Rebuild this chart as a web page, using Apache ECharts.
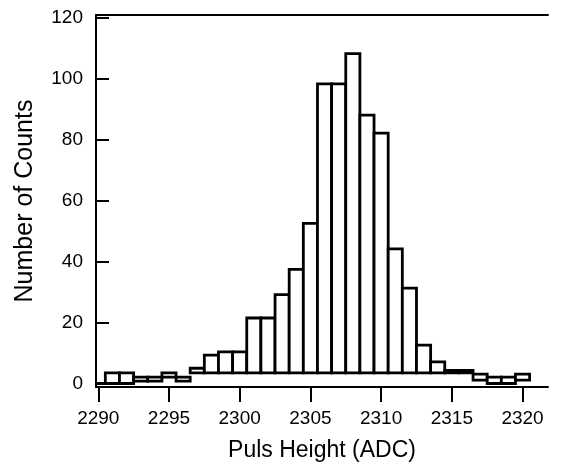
<!DOCTYPE html>
<html>
<head>
<meta charset="utf-8">
<script src="https://cdn.jsdelivr.net/npm/echarts@6/dist/echarts.min.js"></script>
<style>
  html, body { margin: 0; padding: 0; background: #fff; }
  #chart { width: 563px; height: 469px; }
</style>
</head>
<body>
<div id="chart"></div>
<script>
// histogram bins (ADC channel), one count unit wide
const bins = [2290, 2291, 2292, 2293, 2294, 2295, 2296, 2297, 2298, 2299, 2300,
  2301, 2302, 2303, 2304, 2305, 2306, 2307, 2308, 2309, 2310,
  2311, 2312, 2313, 2314, 2315, 2316, 2317, 2318, 2319, 2320];
// top of each box
const counts = [0, 3.5, 3.5, 2.1, 2.1, 3.5, 2.1, 5.0, 9.3, 10.4, 10.4,
  21.5, 21.5, 29.2, 37.5, 52.6, 98.4, 98.4, 108.3, 88.1, 82.2,
  44.2, 31.3, 12.6, 7.1, 4.3, 4.3, 3.1, 2.1, 2.1, 3.1];
// bottom of each box
const baseline = [0, 0, 0, 0.8, 0.8, 2.1, 0.8, 3.5, 3.5, 3.5, 3.5,
  3.5, 3.5, 3.5, 3.5, 3.5, 3.5, 3.5, 3.5, 3.5, 3.5,
  3.5, 3.5, 3.5, 3.5, 3.5, 3.5, 1.1, 0, 0, 1.1];
const xTicks = [2290, 2295, 2300, 2305, 2310, 2315, 2320];
const yTicks = [0, 20, 40, 60, 80, 100, 120];

const chart = echarts.init(document.getElementById("chart"));
const font = "'Liberation Sans', Arial, sans-serif";
const data = bins.map((b, i) => [b, baseline[i], counts[i]]);

const option = {
  animation: false,
  grid: { left: 96, right: 15, top: 15, bottom: 82 },
  xAxis: [
    {
      type: "value",
      min: 2289.84,
      max: 2321.8,
      name: "Puls Height (ADC)",
      nameLocation: "middle",
      nameGap: 52,
      nameTextStyle: { color: "#000", fontSize: 23, fontFamily: font },
      axisLine: { onZero: false, lineStyle: { color: "#000", width: 2 } },
      axisTick: { customValues: xTicks, length: 15, lineStyle: { color: "#000", width: 2 } },
      axisLabel: {
        customValues: xTicks,
        margin: 22,
        color: "#000",
        fontSize: 19,
        fontFamily: font,
        formatter: (v) => String(v)
      },
      splitLine: { show: false }
    },
    {
      type: "value",
      position: "top",
      min: 2289.84,
      max: 2321.8,
      axisLine: { show: true, onZero: false, lineStyle: { color: "#000", width: 2 } },
      axisTick: { show: false },
      axisLabel: { show: false },
      splitLine: { show: false }
    }
  ],
  yAxis: {
    type: "value",
    min: -1.15,
    max: 121,
    name: "Number of Counts",
    nameLocation: "middle",
    nameGap: 58,
    nameTextStyle: { color: "#000", fontSize: 25, fontFamily: font },
    axisLine: { show: true, onZero: false, lineStyle: { color: "#000", width: 2 } },
    axisTick: { show: true, inside: true, customValues: yTicks, length: 13, lineStyle: { color: "#000", width: 2 } },
    axisLabel: { customValues: yTicks, margin: 13, color: "#000", fontSize: 19, fontFamily: font },
    splitLine: { show: false }
  },
  series: [
    {
      type: "custom",
      xAxisIndex: 0,
      encode: { x: 0, y: [1, 2] },
      renderItem(params, api) {
        const x = api.value(0);
        const p1 = api.coord([x - 0.5, api.value(2)]);
        const p2 = api.coord([x + 0.5, api.value(1)]);
        const rect = echarts.graphic.clipRectByRect(
          { x: p1[0], y: p1[1], width: p2[0] - p1[0], height: p2[1] - p1[1] },
          params.coordSys
        );
        if (!rect) return;
        return {
          type: "rect",
          shape: rect,
          style: { fill: "#fff", stroke: "#000", lineWidth: 2.8 }
        };
      },
      data: data
    }
  ]
};
chart.setOption(option);
</script>
</body>
</html>
